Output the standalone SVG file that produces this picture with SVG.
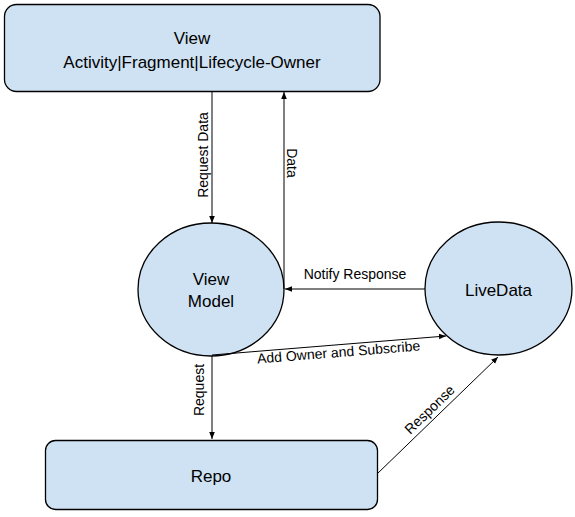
<svg xmlns="http://www.w3.org/2000/svg" width="575" height="517" viewBox="0 0 575 517">
<style>
.node{fill:#cfe2f3;stroke:#000;stroke-width:1.3}
.lbl{font-family:"Liberation Sans",Arial,sans-serif;font-size:17px;fill:#000;text-anchor:middle}
.elbl{font-family:"Liberation Sans",Arial,sans-serif;font-size:14px;fill:#000;text-anchor:middle}
.edge{fill:none;stroke:#000;stroke-width:1}
</style>
<defs>
<marker id="arr" viewBox="0 0 10 10" refX="10" refY="5" markerWidth="7" markerHeight="7" markerUnits="userSpaceOnUse" orient="auto">
<path d="M0,1 L10,5 L0,9 Z" fill="#000"/>
</marker>
</defs>
<rect width="575" height="517" fill="#fff"/>
<g id="view">
<rect class="node" x="4.5" y="4.5" width="375.5" height="87" rx="12" ry="12"/>
<text class="lbl" x="192" y="44">View</text>
<text class="lbl" x="192" y="68">Activity|Fragment|Lifecycle-Owner</text>
</g>
<g id="viewmodel">
<ellipse class="node" cx="211" cy="289.5" rx="73" ry="66.5"/>
<text class="lbl" x="211" y="285">View</text>
<text class="lbl" x="211" y="307">Model</text>
</g>
<g id="livedata">
<ellipse class="node" cx="498.5" cy="288.5" rx="73.5" ry="66.5"/>
<text class="lbl" x="498.5" y="296">LiveData</text>
</g>
<g id="repo">
<rect class="node" x="45.5" y="440.5" width="332" height="69" rx="10" ry="10"/>
<text class="lbl" x="211" y="482">Repo</text>
</g>
<g id="connectors">
<path class="edge" d="M212,92 L212,223" marker-end="url(#arr)"/>
<text class="elbl" transform="translate(208,155) rotate(-90)">Request Data</text>
<path class="edge" d="M284,289 L284,92" marker-end="url(#arr)"/>
<text class="elbl" transform="translate(287,163) rotate(90)">Data</text>
<path class="edge" d="M425,289 L285,289" marker-end="url(#arr)"/>
<text class="elbl" x="355" y="279">Notify Response</text>
<path class="edge" d="M212,355 L446,336" marker-end="url(#arr)"/>
<text class="elbl" transform="translate(339,357) rotate(-4.6)">Add Owner and Subscribe</text>
<path class="edge" d="M212,356 L212,439" marker-end="url(#arr)"/>
<text class="elbl" transform="translate(204,390) rotate(-90)">Request</text>
<path class="edge" d="M377,474 L498,357" marker-end="url(#arr)"/>
<text class="elbl" transform="translate(433,413) rotate(-44)">Response</text>
</g>
</svg>
